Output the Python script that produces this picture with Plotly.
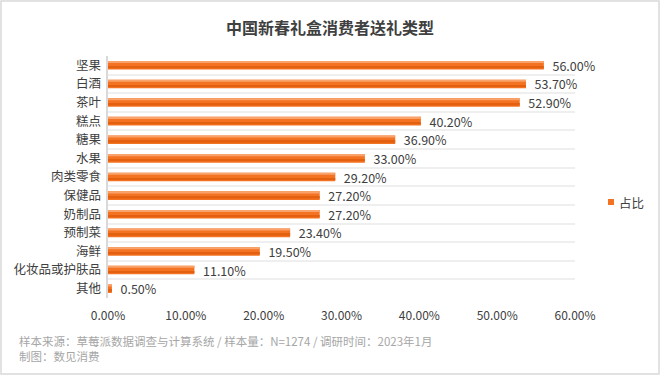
import plotly.graph_objects as go

categories = ["坚果", "白酒", "茶叶", "糕点", "糖果", "水果", "肉类零食", "保健品", "奶制品", "预制菜", "海鲜", "化妆品或护肤品", "其他"]
values = [56.0, 53.7, 52.9, 40.2, 36.9, 33.0, 29.2, 27.2, 27.2, 23.4, 19.5, 11.1, 0.5]
series_name = "占比"
title_text = "中国新春礼盒消费者送礼类型"
source_text = "样本来源：草莓派数据调查与计算系统 / 样本量：N=1274 / 调研时间：2023年1月"
credit_text = "制图：数见消费"
x_ticks = [0, 10, 20, 30, 40, 50, 60]

FONT = "Noto Sans CJK SC, Microsoft YaHei, sans-serif"
W, H = 660, 375
L, R, T, B = 108, 85, 56, 77
PW, PH = W - L - R, H - T - B
BAR_W = 0.46
MAIN = "#F47322"

fig = go.Figure()
# main bar
fig.add_trace(go.Bar(
    y=categories, x=values, orientation="h", name=series_name,
    marker=dict(color=MAIN, line=dict(width=0)),
    width=BAR_W, offset=-BAR_W / 2,
    text=["  " + f"{v:.2f}%" for v in values],
    textposition="outside", cliponaxis=False, constraintext="none",
    textfont=dict(family=FONT, size=12.5, color="#404040"),
    showlegend=False,
))
# shading stripes (same data, visual gradient)
fig.add_trace(go.Bar(
    y=categories, x=values, orientation="h", name=series_name,
    marker=dict(color="#F9A26C", line=dict(width=0)),
    width=0.11, offset=-BAR_W / 2, hoverinfo="skip", showlegend=False,
))
fig.add_trace(go.Bar(
    y=categories, x=values, orientation="h", name=series_name,
    marker=dict(color="#E2600F", line=dict(width=0)),
    width=0.1, offset=0.06, hoverinfo="skip", showlegend=False,
))

fig.update_layout(
    width=W, height=H,
    margin=dict(l=L, r=R, t=T, b=B, pad=0, autoexpand=False),
    paper_bgcolor="white", plot_bgcolor="white",
    font=dict(family=FONT, color="#404040"),
    title=dict(text="<b>" + title_text + "</b>", x=0.5, xanchor="center",
               y=1 - 28 / H, yanchor="middle",
               font=dict(family=FONT, size=16, color="#404040")),
    xaxis=dict(range=[0, 60], tickvals=x_ticks,
               ticktext=[f"{t:.2f}%" for t in x_ticks],
               showgrid=False, zeroline=False, showline=False,
               tickfont=dict(family=FONT, size=12, color="#404040"),
               ticks="", ticklen=0, ticklabelstandoff=9, automargin=False),
    yaxis=dict(autorange="reversed", type="category",
               tickson="boundaries", showgrid=True, gridcolor="#EFEFEF", gridwidth=2,
               showline=True, linecolor="#D9D9D9", linewidth=1.5,
               ticks="", tickfont=dict(family=FONT, size=12.5, color="#404040"),
               automargin=False, ticksuffix=" "),
    barmode="overlay",
    showlegend=False,
)

# legend (manual, to match compact symbol/text spacing)
ly = (T + PH - 202) / PH
fig.add_shape(type="rect", xref="paper", yref="paper",
              x0=(608 - L) / PW, x1=(614 - L) / PW,
              y0=(T + PH - 205) / PH, y1=(T + PH - 199) / PH,
              fillcolor=MAIN, line=dict(width=0))
fig.add_annotation(text=series_name, xref="paper", yref="paper",
                   x=(617 - L) / PW, y=ly, xanchor="left", yanchor="middle",
                   showarrow=False, font=dict(family=FONT, size=12.5, color="#404040"))

fig.add_annotation(text=source_text, xref="paper", yref="paper",
                   x=(17 - L) / PW, y=-(341 - (T + PH)) / PH, xanchor="left", yanchor="middle",
                   showarrow=False, font=dict(family=FONT, size=11.5, color="#A6A6A6"))
fig.add_annotation(text=credit_text, xref="paper", yref="paper",
                   x=(17 - L) / PW, y=-(356 - (T + PH)) / PH, xanchor="left", yanchor="middle",
                   showarrow=False, font=dict(family=FONT, size=11.5, color="#A6A6A6"))

fig.add_shape(type="rect", xref="paper", yref="paper",
              x0=(1 - L) / PW, x1=(W - 1 - L) / PW,
              y0=-(H - 1 - (T + PH)) / PH, y1=(T + PH - 1) / PH,
              line=dict(color="#D9D9D9", width=1.5), layer="below")

fig.write_html("out.html", config={"displayModeBar": False},
               post_script="document.body.style.margin='0';")
